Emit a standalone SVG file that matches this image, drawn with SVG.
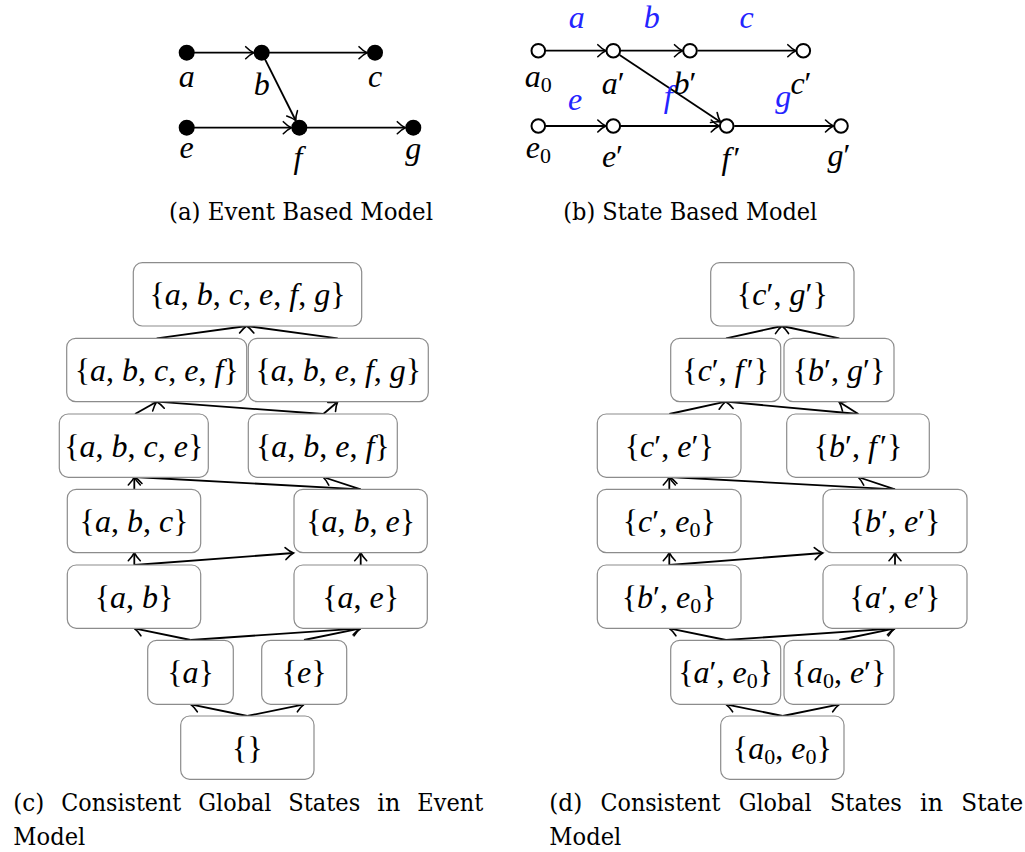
<svg xmlns="http://www.w3.org/2000/svg" width="1025" height="852" viewBox="0 0 1025 852">
<defs>
<style>
.m{font-family:"Liberation Serif","DejaVu Serif",serif;font-size:32px;fill:#000}
.i{font-style:italic}
.bl{fill:#2424ff}
.cap{font-family:"DejaVu Serif","Liberation Serif",serif;font-size:23.5px;fill:#000}
.ln{stroke:#000;stroke-width:1.8;fill:none;marker-end:url(#ah)}
.box{fill:#fff;stroke:#8c8c8c;stroke-width:1.2}
.fc{fill:#000}
.oc{fill:#fff;stroke:#000;stroke-width:2}
</style>
<marker id="ah" markerUnits="userSpaceOnUse" markerWidth="16" markerHeight="16" refX="0" refY="0" orient="auto" overflow="visible">
<path d="M-8,-6 C-5,-3 -2.2,-1 0,0 C-2.2,1 -5,3 -8,6" fill="none" stroke="#000" stroke-width="1.6" stroke-linecap="round"/>
</marker>
</defs>

<g id="connectors">
<!-- (a) -->
<line class="ln" x1="186.7" y1="52.7" x2="253.7" y2="52.7"/>
<line class="ln" x1="261.7" y1="52.7" x2="367" y2="52.7"/>
<line class="ln" x1="261.7" y1="52.7" x2="295.7" y2="120.5"/>
<line class="ln" x1="186.7" y1="127.7" x2="291.3" y2="127.7"/>
<line class="ln" x1="299.3" y1="127.7" x2="405.3" y2="127.7"/>
<!-- (b) -->
<line class="ln" x1="545.8" y1="50.7" x2="605.8" y2="50.7"/>
<line class="ln" x1="620.8" y1="50.7" x2="682.5" y2="50.7"/>
<line class="ln" x1="697.5" y1="50.7" x2="795.8" y2="50.7"/>
<line class="ln" x1="619.6" y1="54.9" x2="720.5" y2="121.9"/>
<line class="ln" x1="545.8" y1="126" x2="605.8" y2="126"/>
<line class="ln" x1="620.8" y1="126" x2="719.2" y2="126"/>
<line class="ln" x1="734.2" y1="126" x2="833.5" y2="126"/>
<!-- (c) -->
<line class="ln" x1="156.7" y1="338.3" x2="246.7" y2="326"/>
<line class="ln" x1="337.7" y1="338.3" x2="246.7" y2="326"/>
<line class="ln" x1="135" y1="414" x2="156.7" y2="401.7"/>
<line class="ln" x1="323.3" y1="414" x2="156.7" y2="401.7"/>
<line class="ln" x1="323.3" y1="414" x2="337.7" y2="401.7"/>
<line class="ln" x1="134.3" y1="489.3" x2="134.3" y2="477"/>
<line class="ln" x1="360.7" y1="489.3" x2="134.3" y2="477"/>
<line class="ln" x1="360.7" y1="489.3" x2="323" y2="477"/>
<line class="ln" x1="134.3" y1="565" x2="134.3" y2="552.7"/>
<line class="ln" x1="134.3" y1="565" x2="293.5" y2="553"/>
<line class="ln" x1="360.7" y1="565" x2="360.7" y2="552.7"/>
<line class="ln" x1="190.7" y1="640" x2="134.3" y2="628.3"/>
<line class="ln" x1="190.7" y1="640" x2="360.7" y2="628.3"/>
<line class="ln" x1="304" y1="640" x2="360.7" y2="628.3"/>
<line class="ln" x1="247.3" y1="716" x2="190.7" y2="704.3"/>
<line class="ln" x1="247.3" y1="716" x2="304" y2="704.3"/>
<!-- (d) -->
<line class="ln" x1="726" y1="338.3" x2="782" y2="326"/>
<line class="ln" x1="839.3" y1="338.3" x2="782" y2="326"/>
<line class="ln" x1="669.3" y1="414" x2="725.7" y2="401.7"/>
<line class="ln" x1="858.3" y1="414" x2="725.7" y2="401.7"/>
<line class="ln" x1="858.3" y1="414" x2="839" y2="401.7"/>
<line class="ln" x1="669.3" y1="489.3" x2="669.3" y2="477"/>
<line class="ln" x1="895" y1="489.3" x2="669.3" y2="477"/>
<line class="ln" x1="895" y1="489.3" x2="858" y2="477"/>
<line class="ln" x1="669.3" y1="565" x2="669.3" y2="552.7"/>
<line class="ln" x1="669.3" y1="565" x2="822.7" y2="553"/>
<line class="ln" x1="895" y1="565" x2="895" y2="552.7"/>
<line class="ln" x1="726" y1="640" x2="669.3" y2="628.3"/>
<line class="ln" x1="726" y1="640" x2="895" y2="628.3"/>
<line class="ln" x1="839.3" y1="640" x2="895" y2="628.3"/>
<line class="ln" x1="782.7" y1="716" x2="726" y2="704.3"/>
<line class="ln" x1="782.7" y1="716" x2="839.3" y2="704.3"/>
</g>

<!-- (a) Event based model nodes -->
<g id="ev-a"><circle class="fc" cx="186.7" cy="52.7" r="8"/><text class="m i" x="186.7" y="86.7" text-anchor="middle">a</text></g>
<g id="ev-b"><circle class="fc" cx="261.7" cy="52.7" r="8"/><text class="m i" x="261.7" y="94.5" text-anchor="middle">b</text></g>
<g id="ev-c"><circle class="fc" cx="375" cy="52.7" r="8"/><text class="m i" x="375" y="86.7" text-anchor="middle">c</text></g>
<g id="ev-e"><circle class="fc" cx="186.7" cy="127.7" r="8"/><text class="m i" x="186.7" y="158.3" text-anchor="middle">e</text></g>
<g id="ev-f"><circle class="fc" cx="299.3" cy="127.7" r="8"/><text class="m i" x="298" y="167.5" text-anchor="middle">f</text></g>
<g id="ev-g"><circle class="fc" cx="413.3" cy="127.7" r="8"/><text class="m i" x="413.3" y="158.5" text-anchor="middle">g</text></g>

<!-- (b) State based model nodes -->
<g id="st-a0"><circle class="oc" cx="538.3" cy="50.7" r="6.8"/><text class="m" x="538.3" y="87.3" text-anchor="middle"><tspan class="i">a</tspan><tspan font-size="22" dy="5">0</tspan></text></g>
<g id="st-a1"><circle class="oc" cx="613.3" cy="50.7" r="6.8"/><text class="m" x="613.3" y="94" text-anchor="middle"><tspan class="i">a</tspan>′</text></g>
<g id="st-b1"><circle class="oc" cx="690" cy="50.7" r="6.8"/><text class="m" x="685" y="93.5" text-anchor="middle"><tspan class="i">b</tspan>′</text></g>
<g id="st-c1"><circle class="oc" cx="803.3" cy="50.7" r="6.8"/><text class="m" x="801" y="93.5" text-anchor="middle"><tspan class="i">c</tspan>′</text></g>
<g id="st-e0"><circle class="oc" cx="538.3" cy="126" r="6.8"/><text class="m" x="538.3" y="158.3" text-anchor="middle"><tspan class="i">e</tspan><tspan font-size="22" dy="5">0</tspan></text></g>
<g id="st-e1"><circle class="oc" cx="613.3" cy="126" r="6.8"/><text class="m" x="612.5" y="166.7" text-anchor="middle"><tspan class="i">e</tspan>′</text></g>
<g id="st-f1"><circle class="oc" cx="726.7" cy="126" r="6.8"/><text class="m" x="731" y="169" text-anchor="middle"><tspan class="i">f</tspan><tspan dx="3">′</tspan></text></g>
<g id="st-g1"><circle class="oc" cx="841" cy="126" r="6.8"/><text class="m" x="839" y="166" text-anchor="middle"><tspan class="i">g</tspan>′</text></g>
<g id="st-events">
<text class="m i bl" x="576.7" y="28" text-anchor="middle">a</text>
<text class="m i bl" x="651.7" y="28" text-anchor="middle">b</text>
<text class="m i bl" x="746.7" y="28" text-anchor="middle">c</text>
<text class="m i bl" x="575" y="110" text-anchor="middle">e</text>
<text class="m i bl" x="668.3" y="107" text-anchor="middle">f</text>
<text class="m i bl" x="783.3" y="107" text-anchor="middle">g</text>
</g>

<!-- (c) Consistent global states, event model -->
<g id="c-abcefg"><rect class="box" x="133.3" y="262.7" width="228.4" height="63.3" rx="9"/><text class="m" x="247.5" y="305.2" text-anchor="middle">{<tspan class="i">a</tspan>, <tspan class="i">b</tspan>, <tspan class="i">c</tspan>, <tspan class="i">e</tspan>, <tspan class="i">f</tspan>, <tspan class="i">g</tspan>}</text></g>
<g id="c-abcef"><rect class="box" x="66.7" y="338.3" width="180" height="63.3" rx="9"/><text class="m" x="156.7" y="380.8" text-anchor="middle">{<tspan class="i">a</tspan>, <tspan class="i">b</tspan>, <tspan class="i">c</tspan>, <tspan class="i">e</tspan>, <tspan class="i">f</tspan>}</text></g>
<g id="c-abefg"><rect class="box" x="248.3" y="338.3" width="180" height="63.3" rx="9"/><text class="m" x="338.3" y="380.8" text-anchor="middle">{<tspan class="i">a</tspan>, <tspan class="i">b</tspan>, <tspan class="i">e</tspan>, <tspan class="i">f</tspan>, <tspan class="i">g</tspan>}</text></g>
<g id="c-abce"><rect class="box" x="59.3" y="414" width="149" height="63.3" rx="9"/><text class="m" x="133.8" y="456.5" text-anchor="middle">{<tspan class="i">a</tspan>, <tspan class="i">b</tspan>, <tspan class="i">c</tspan>, <tspan class="i">e</tspan>}</text></g>
<g id="c-abef"><rect class="box" x="248.3" y="414" width="149" height="63.3" rx="9"/><text class="m" x="322.8" y="456.5" text-anchor="middle">{<tspan class="i">a</tspan>, <tspan class="i">b</tspan>, <tspan class="i">e</tspan>, <tspan class="i">f</tspan>}</text></g>
<g id="c-abc"><rect class="box" x="67.3" y="489.3" width="133.4" height="63.3" rx="9"/><text class="m" x="134" y="531.8" text-anchor="middle">{<tspan class="i">a</tspan>, <tspan class="i">b</tspan>, <tspan class="i">c</tspan>}</text></g>
<g id="c-abe"><rect class="box" x="294" y="489.3" width="133.3" height="63.3" rx="9"/><text class="m" x="360.7" y="531.8" text-anchor="middle">{<tspan class="i">a</tspan>, <tspan class="i">b</tspan>, <tspan class="i">e</tspan>}</text></g>
<g id="c-ab"><rect class="box" x="67.3" y="565" width="133.4" height="63.3" rx="9"/><text class="m" x="134" y="607.5" text-anchor="middle">{<tspan class="i">a</tspan>, <tspan class="i">b</tspan>}</text></g>
<g id="c-ae"><rect class="box" x="294" y="565" width="133.3" height="63.3" rx="9"/><text class="m" x="360.7" y="607.5" text-anchor="middle">{<tspan class="i">a</tspan>, <tspan class="i">e</tspan>}</text></g>
<g id="c-a"><rect class="box" x="147.7" y="640.3" width="85.6" height="64" rx="9"/><text class="m" x="190.5" y="682.8" text-anchor="middle">{<tspan class="i">a</tspan>}</text></g>
<g id="c-e"><rect class="box" x="261.7" y="640.3" width="85" height="64" rx="9"/><text class="m" x="304.2" y="682.8" text-anchor="middle">{<tspan class="i">e</tspan>}</text></g>
<g id="c-empty"><rect class="box" x="180.7" y="716" width="133.3" height="63.3" rx="9"/><text class="m" x="247.3" y="758.5" text-anchor="middle">{}</text></g>

<!-- (d) Consistent global states, state model -->
<g id="d-c1g1"><rect class="box" x="710.7" y="262.7" width="143.3" height="63.3" rx="9"/><text class="m" x="782.3" y="305.2" text-anchor="middle">{<tspan class="i">c</tspan>′, <tspan class="i">g</tspan>′}</text></g>
<g id="d-c1f1"><rect class="box" x="670.7" y="338.3" width="110" height="63.3" rx="9"/><text class="m" x="725.7" y="380.8" text-anchor="middle">{<tspan class="i">c</tspan>′, <tspan class="i">f</tspan><tspan dx="3">′}</tspan></text></g>
<g id="d-b1g1"><rect class="box" x="784" y="338.3" width="110" height="63.3" rx="9"/><text class="m" x="839" y="380.8" text-anchor="middle">{<tspan class="i">b</tspan>′, <tspan class="i">g</tspan>′}</text></g>
<g id="d-c1e1"><rect class="box" x="597.3" y="414" width="143.7" height="63.3" rx="9"/><text class="m" x="669.2" y="456.5" text-anchor="middle">{<tspan class="i">c</tspan>′, <tspan class="i">e</tspan>′}</text></g>
<g id="d-b1f1"><rect class="box" x="786.7" y="414" width="142.6" height="63.3" rx="9"/><text class="m" x="858" y="456.5" text-anchor="middle">{<tspan class="i">b</tspan>′, <tspan class="i">f</tspan><tspan dx="3">′}</tspan></text></g>
<g id="d-c1e0"><rect class="box" x="597.3" y="489.3" width="143.7" height="63.3" rx="9"/><text class="m" x="669.2" y="531.8" text-anchor="middle">{<tspan class="i">c</tspan>′, <tspan class="i">e</tspan><tspan font-size="22" dy="5">0</tspan><tspan dy="-5">}</tspan></text></g>
<g id="d-b1e1"><rect class="box" x="823" y="489.3" width="144" height="63.3" rx="9"/><text class="m" x="895" y="531.8" text-anchor="middle">{<tspan class="i">b</tspan>′, <tspan class="i">e</tspan>′}</text></g>
<g id="d-b1e0"><rect class="box" x="597.3" y="565" width="143.7" height="63.3" rx="9"/><text class="m" x="669.2" y="607.5" text-anchor="middle">{<tspan class="i">b</tspan>′, <tspan class="i">e</tspan><tspan font-size="22" dy="5">0</tspan><tspan dy="-5">}</tspan></text></g>
<g id="d-a1e1"><rect class="box" x="823" y="565" width="144" height="63.3" rx="9"/><text class="m" x="895" y="607.5" text-anchor="middle">{<tspan class="i">a</tspan>′, <tspan class="i">e</tspan>′}</text></g>
<g id="d-a1e0"><rect class="box" x="670.7" y="640.3" width="110" height="64" rx="9"/><text class="m" x="725.7" y="682.8" text-anchor="middle">{<tspan class="i">a</tspan>′, <tspan class="i">e</tspan><tspan font-size="22" dy="5">0</tspan><tspan dy="-5">}</tspan></text></g>
<g id="d-a0e1"><rect class="box" x="784" y="640.3" width="110" height="64" rx="9"/><text class="m" x="839" y="682.8" text-anchor="middle">{<tspan class="i">a</tspan><tspan font-size="22" dy="5">0</tspan><tspan dy="-5">, </tspan><tspan class="i">e</tspan>′}</text></g>
<g id="d-a0e0"><rect class="box" x="720.7" y="716" width="123.3" height="63.3" rx="9"/><text class="m" x="782.3" y="758.5" text-anchor="middle">{<tspan class="i">a</tspan><tspan font-size="22" dy="5">0</tspan><tspan dy="-5">, </tspan><tspan class="i">e</tspan><tspan font-size="22" dy="5">0</tspan><tspan dy="-5">}</tspan></text></g>

<!-- captions -->
<g id="captions">
<text class="cap" x="169" y="219.5" textLength="264" lengthAdjust="spacingAndGlyphs">(a) Event Based Model</text>
<text class="cap" x="563.3" y="219.5" textLength="254" lengthAdjust="spacingAndGlyphs">(b) State Based Model</text>
<text class="cap" x="13.3" y="811" textLength="31" lengthAdjust="spacingAndGlyphs">(c)</text>
<text class="cap" x="61.3" y="811" textLength="120" lengthAdjust="spacingAndGlyphs">Consistent</text>
<text class="cap" x="198.3" y="811" textLength="73" lengthAdjust="spacingAndGlyphs">Global</text>
<text class="cap" x="288.3" y="811" textLength="72" lengthAdjust="spacingAndGlyphs">States</text>
<text class="cap" x="377.3" y="811" textLength="23" lengthAdjust="spacingAndGlyphs">in</text>
<text class="cap" x="417.3" y="811" textLength="66" lengthAdjust="spacingAndGlyphs">Event</text>
<text class="cap" x="13.3" y="845" textLength="72" lengthAdjust="spacingAndGlyphs">Model</text>
<text class="cap" x="549.3" y="811" textLength="33" lengthAdjust="spacingAndGlyphs">(d)</text>
<text class="cap" x="600.5" y="811" textLength="120" lengthAdjust="spacingAndGlyphs">Consistent</text>
<text class="cap" x="738.7" y="811" textLength="73" lengthAdjust="spacingAndGlyphs">Global</text>
<text class="cap" x="829.9" y="811" textLength="72" lengthAdjust="spacingAndGlyphs">States</text>
<text class="cap" x="920.1" y="811" textLength="23" lengthAdjust="spacingAndGlyphs">in</text>
<text class="cap" x="961.3" y="811" textLength="62" lengthAdjust="spacingAndGlyphs">State</text>
<text class="cap" x="549.3" y="845" textLength="72" lengthAdjust="spacingAndGlyphs">Model</text>
</g>
</svg>
